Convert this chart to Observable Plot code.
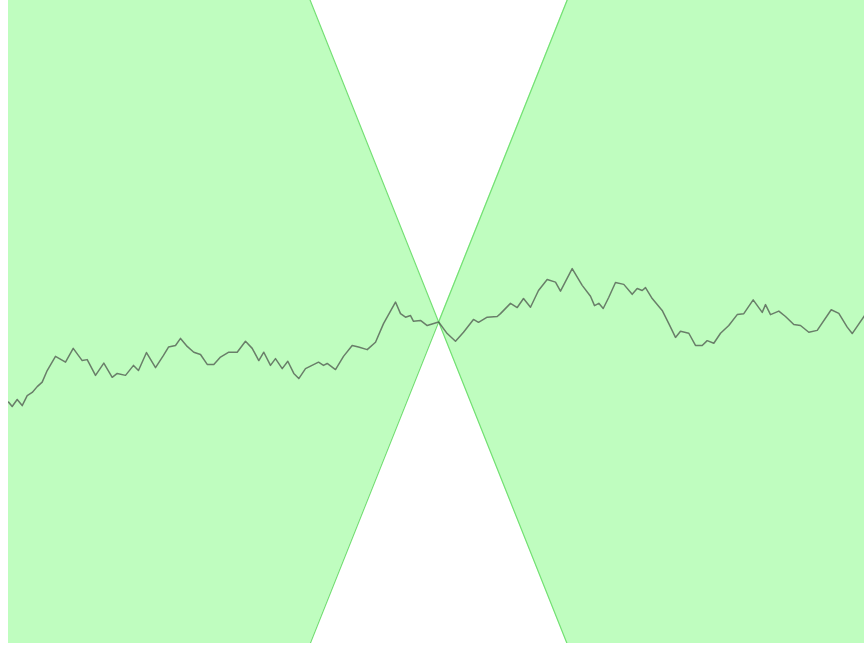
<!DOCTYPE html>
<html>
<head>
<meta charset="utf-8">
<script src="https://cdn.jsdelivr.net/npm/d3@7"></script>
<script src="https://cdn.jsdelivr.net/npm/@observablehq/plot@0.6"></script>
<style>
  html, body { margin: 0; padding: 0; background: #fff; }
  #chart svg { display: block; }
</style>
</head>
<body>
<div id="chart"></div>
<script>
// Random-walk series (time step, value)
const walkX = [0,0.86,2.03,3.2,4.37,5.54,6.71,7.87,9.04,10.98,13.32,15.12,17.22,18.39,20.33,22.27,24.23,25.4,27.34,29.21,30.37,32.24,34.35,36.21,37.38,39.02,40.19,41.75,43.29,44.86,46.43,47.97,49.53,51.47,53.43,55.37,56.94,58.48,59.65,61.21,62.38,63.95,65.26,66.66,67.83,69.39,72.43,73.6,74.46,76.4,78.27,80.3,81.78,83.81,85.75,87.62,90.42,91.59,92.76,93.93,94.63,96.26,97.83,100.5,102.5,104.44,106.31,108.64,109.81,111.85,114.18,114.95,117.29,118.86,120.33,121.96,123.83,125.86,127.8,128.97,131.7,134.04,135.98,136.92,137.92,138.95,140.26,141.82,143.76,145.72,146.89,148.06,148.83,150.4,152.73,154.28,155.84,157.01,158.95,160.51,162.08,163.25,164.79,166.36,168.29,170.26,171.8,173.99,176.1,176.87,178.04,179.98,181.54,183.48,185.05,186.99,188.95,192.22,194.0,195.96,197.13,200];
const walkY = [-2.49,-2.63,-2.41,-2.60,-2.29,-2.19,-2.01,-1.87,-1.51,-1.07,-1.25,-0.82,-1.20,-1.17,-1.66,-1.28,-1.72,-1.60,-1.66,-1.35,-1.51,-0.95,-1.42,-1.04,-0.78,-0.73,-0.51,-0.76,-0.94,-1.01,-1.32,-1.32,-1.09,-0.94,-0.94,-0.60,-0.82,-1.20,-0.94,-1.35,-1.14,-1.45,-1.22,-1.60,-1.76,-1.45,-1.25,-1.35,-1.29,-1.48,-1.07,-0.73,-0.78,-0.86,-0.63,-0.05,0.62,0.26,0.15,0.20,0.02,0.05,-0.11,0,-0.36,-0.60,-0.32,0.08,-0.01,0.15,0.17,0.26,0.58,0.45,0.73,0.46,0.98,1.32,1.24,0.96,1.66,1.14,0.80,0.51,0.58,0.42,0.77,1.23,1.17,0.86,1.04,0.98,1.07,0.73,0.36,-0.05,-0.48,-0.29,-0.35,-0.73,-0.73,-0.58,-0.66,-0.35,-0.11,0.23,0.26,0.69,0.30,0.54,0.23,0.34,0.17,-0.08,-0.11,-0.32,-0.26,0.38,0.27,-0.16,-0.36,0.20];

// Cone (bow-tie) bounds, pinned at the centre step
const coneX = [0, 100.5, 200];
const coneLow = [-33.5, 0, 33.17];
const coneHigh = [33.5, 0, -33.17];

const xDomain = [0, 200];
const yDomain = [-10, 10];

const walk = walkX.map((x, i) => ({x, y: walkY[i]}));
const cone = coneX.map((x, i) => ({x, lo: coneLow[i], hi: coneHigh[i]}));

const chart = Plot.plot({
  width: 864,
  height: 649,
  marginLeft: 8,
  marginRight: 0,
  marginTop: 0,
  marginBottom: 6,
  x: {domain: xDomain, axis: null},
  y: {domain: yDomain, axis: null},
  clip: true,
  marks: [
    Plot.areaY(cone, {x: "x", y1: "lo", y2: "hi", fill: "#98fb98", fillOpacity: 0.62}),
    Plot.lineY(cone, {x: "x", y: "lo", stroke: "#74e074", strokeWidth: 1.2}),
    Plot.lineY(cone, {x: "x", y: "hi", stroke: "#74e074", strokeWidth: 1.2}),
    Plot.lineY(walk, {x: "x", y: "y", stroke: "#3a3a3a", strokeOpacity: 0.65, strokeWidth: 1.5})
  ]
});
document.getElementById("chart").appendChild(chart);
</script>
</body>
</html>
